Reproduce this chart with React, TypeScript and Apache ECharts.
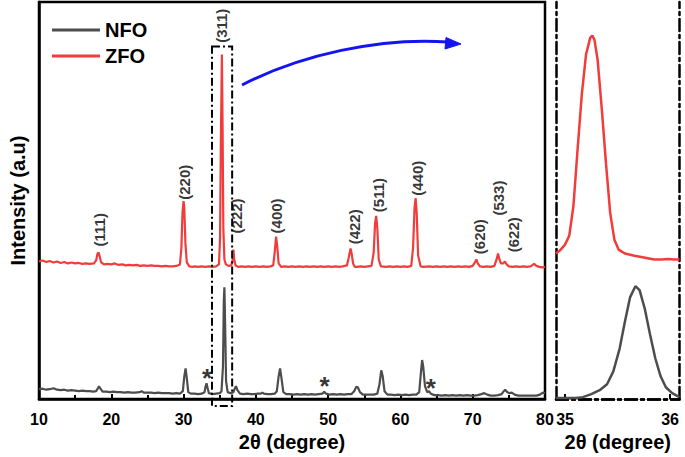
import React, { useEffect, useRef } from "react";
import * as echarts from "echarts";

const FONT = "'Liberation Sans', Arial, Helvetica, sans-serif";
const GRAY = "#4d4d4d";
const RED = "#f23c3c";

// ---- Main pattern, ZFO (2θ, intensity a.u.) ----
const zfoMain: number[][] = [
  [10, 139], [10.5, 140], [11, 138.5], [11.5, 139.5], [12, 138], [12.5, 139], [13, 137.5], [13.5, 138.5],
  [14, 137], [14.5, 138], [15, 137], [15.5, 137.5], [16, 136.5], [16.5, 137], [17, 136.5], [17.6, 137],
  [17.9, 140], [18.1, 147], [18.25, 148], [18.4, 144], [18.6, 138], [19, 136], [19.5, 136.5], [20, 136],
  [20.5, 137], [21, 135.5], [21.5, 136], [22, 135], [22.5, 135.5], [23, 135], [23.5, 135.5], [24, 134.5],
  [24.5, 135], [25, 134.5], [25.5, 135], [26, 134.5], [26.5, 134.5], [27, 134], [27.5, 134.5], [28, 134],
  [28.5, 134], [29, 134.5], [29.5, 136], [29.7, 153], [29.85, 188], [30, 200], [30.1, 193], [30.25, 158],
  [30.45, 138], [30.8, 134], [31.2, 133.5], [31.6, 134], [32, 133.5], [32.5, 134], [33, 133.5], [33.5, 134],
  [34, 133.5], [34.5, 134], [34.9, 136], [35.05, 163], [35.15, 253], [35.3, 348], [35.4, 273], [35.5, 173],
  [35.65, 141], [35.85, 136], [36.2, 134.5], [36.6, 135], [36.8, 141], [36.9, 151], [37.0, 141], [37.2, 135],
  [37.6, 133.5], [38, 134], [38.5, 133.5], [39, 134], [39.5, 133.5], [40, 134], [40.5, 133.5], [41, 134],
  [41.5, 133.5], [42, 134], [42.4, 135], [42.6, 148], [42.8, 164], [42.95, 155], [43.15, 137], [43.5, 133.5],
  [44, 134], [44.5, 133.5], [45, 134], [45.5, 133.5], [46, 134], [46.5, 133.5], [47, 134], [47.5, 133.5],
  [48, 134], [48.5, 133.5], [49, 134], [49.5, 133.5], [50, 134], [50.5, 133.5], [51, 134], [51.5, 133.5],
  [52, 134], [52.6, 135], [52.85, 143], [53.1, 152], [53.25, 147], [53.45, 137], [53.7, 133.5], [54, 133.5],
  [54.5, 134], [55, 133.5], [55.5, 134], [56, 134.5], [56.3, 148], [56.5, 178], [56.65, 185], [56.8, 173],
  [57.0, 141], [57.3, 134], [58, 133.5], [58.5, 134], [59, 133.5], [59.5, 134], [60, 133.5], [60.5, 134],
  [61, 133.5], [61.5, 134.5], [61.75, 153], [61.95, 193], [62.1, 203], [62.25, 188], [62.45, 145], [62.8, 134],
  [63.2, 133.5], [64, 134], [64.5, 133.5], [65, 134], [65.5, 133.5], [66, 134], [66.5, 133.5], [67, 134],
  [67.5, 133.5], [68, 134], [68.5, 133.5], [69, 134], [69.5, 133.5], [70, 134.5], [70.3, 138], [70.5, 141],
  [70.7, 137], [71, 134], [71.5, 133.5], [72, 134], [72.5, 133.5], [73, 134.5], [73.3, 141], [73.5, 147],
  [73.7, 141], [73.9, 137], [74.2, 137], [74.45, 139], [74.7, 136], [75, 134], [75.5, 133.5], [76, 134],
  [76.5, 133.5], [77, 134], [77.5, 133.5], [78, 134], [78.3, 135.5], [78.5, 136.5], [78.8, 134.5], [79.2, 133.5],
  [79.6, 133], [80, 133.5],
];

// ---- Main pattern, NFO (2θ, intensity a.u.) ----
const nfoMain: number[][] = [
  [10, 10], [10.5, 10.5], [11, 9.5], [11.5, 10], [12, 11], [12.5, 9.5], [13, 9], [13.5, 9.5], [14, 8.5],
  [14.5, 9], [15, 8.5], [15.5, 8], [16, 8.5], [16.5, 8], [17, 8], [17.5, 7.5], [17.9, 8], [18.15, 11],
  [18.3, 13], [18.5, 10.5], [18.8, 7.5], [19.3, 7.5], [19.8, 7], [20.3, 7.5], [20.8, 7], [21.3, 7], [21.8, 6.5],
  [22.3, 7], [22.8, 6.5], [23.3, 6.5], [23.9, 7], [24.2, 8], [24.5, 6.5], [25, 6.5], [25.5, 6.5], [26, 6],
  [26.5, 6.5], [27, 6], [27.5, 6], [28, 6], [28.5, 5.5], [29, 6], [29.5, 5.5], [29.9, 8], [30.1, 23],
  [30.28, 31], [30.45, 21], [30.65, 7], [31, 5.5], [31.5, 5.5], [32, 5], [32.5, 5.5], [32.9, 7], [33.05, 13],
  [33.18, 16], [33.3, 12], [33.5, 6], [34, 5], [34.5, 5.5], [35, 6], [35.25, 8], [35.45, 33], [35.57, 100],
  [35.65, 113], [35.75, 75], [35.88, 18], [36.1, 7], [36.5, 6], [36.9, 7], [37.1, 11], [37.25, 13], [37.45, 9],
  [37.8, 5.5], [38.3, 5], [38.8, 5.5], [39.3, 5], [39.8, 5], [40.3, 5.5], [40.7, 5.5], [40.9, 6.5], [41.1, 5.5],
  [41.6, 5], [42.1, 5], [42.6, 5.5], [42.9, 8], [43.15, 23], [43.35, 31], [43.55, 21], [43.8, 7], [44.2, 5],
  [44.7, 5], [45.2, 4.5], [45.7, 5], [46.2, 4.5], [46.7, 5], [47.2, 4.5], [47.7, 5], [48.2, 4.5], [48.7, 5],
  [49.2, 5.5], [49.45, 7.5], [49.7, 5.5], [50.2, 4.5], [50.7, 5], [51.2, 4.5], [51.7, 5], [52.2, 4.5], [52.7, 5],
  [53.2, 5], [53.6, 8], [53.9, 12.5], [54.1, 12], [54.4, 7], [54.8, 4.5], [55.3, 4.5], [55.8, 4.5], [56.3, 4.5],
  [56.8, 5.5], [57.1, 15], [57.35, 29], [57.55, 23], [57.8, 8], [58.2, 4.5], [58.7, 4.5], [59.2, 4], [59.7, 4.5],
  [60.2, 4], [60.7, 4.5], [61.2, 4], [61.7, 4.5], [62.2, 4.5], [62.6, 7], [62.85, 28], [63.0, 39.5], [63.15, 33],
  [63.4, 13], [63.7, 7], [63.95, 8], [64.2, 5.5], [64.7, 4], [65.2, 4], [65.7, 3.5], [66.2, 4], [66.7, 3.5],
  [67.2, 4], [67.7, 3.5], [68.2, 4], [68.7, 3.5], [69.2, 4], [69.7, 3.5], [70.2, 3.5], [70.7, 4], [71.2, 5],
  [71.6, 6], [72, 4.5], [72.5, 3.5], [73, 3.5], [73.5, 4], [74, 5], [74.3, 8], [74.5, 9.5], [74.8, 7],
  [75.1, 6], [75.4, 6.5], [75.8, 4.5], [76.3, 3.5], [76.8, 3.5], [77.3, 3.5], [77.8, 3.5], [78.3, 3.5],
  [78.8, 3.5], [79.3, 4.5], [79.6, 6], [79.8, 6.5], [80, 6],
];

// ---- Inset (311) region ----
const zfoInset: number[][] = [
  [34.914, 147], [34.95, 150], [35.0, 156], [35.04, 165], [35.08, 195], [35.12, 253], [35.16, 308], [35.2, 348],
  [35.24, 365], [35.26, 367], [35.28, 363], [35.31, 343], [35.35, 293], [35.39, 238], [35.43, 188], [35.47, 161],
  [35.51, 151], [35.57, 147], [35.65, 145], [35.75, 143], [35.85, 141], [35.92, 141], [35.98, 141.5], [36.04, 141],
  [36.09, 141],
];
const nfoInset: number[][] = [
  [34.914, 1], [35.0, 1], [35.1, 1], [35.17, 2], [35.25, 5], [35.33, 9], [35.4, 15], [35.46, 28], [35.52, 51],
  [35.57, 78], [35.62, 103], [35.67, 114], [35.71, 110], [35.76, 91], [35.81, 65], [35.86, 41], [35.91, 23],
  [35.96, 12], [36.02, 6], [36.09, 2],
];

// ---- Annotations ----
const peakLabels = ["(111)", "(220)", "(311)", "(222)", "(400)", "(422)", "(511)", "(440)", "(620)", "(533)", "(622)"];
const peakLabelX = [18.4, 30.1, 35.3, 37.35, 42.9, 53.6, 56.9, 62.3, 70.9, 73.55, 75.6];
const peakLabelY = [171, 219, 377, 185, 185, 174, 206, 223, 164, 203, 166];
const starX = [33.25, 49.5, 64.2];
const starY = [21, 13, 11];
const boxX = [33.93, 36.72];
const boxY = [-7, 356];

const xTicksMain = [10, 20, 30, 40, 50, 60, 70, 80];
const xTicksInset = [35, 36];

const dashDot = [12, 4, 3, 4];

export default function App() {
  const ref = useRef<HTMLDivElement>(null);
  useEffect(() => {
    if (!ref.current) return;
    const chart = echarts.init(ref.current, null, { renderer: "svg" });
    const axisTitle = { fontSize: 20, fontWeight: "bold", color: "#000", fontFamily: FONT };
    const tickLabel = { color: "#000", fontSize: 16, fontWeight: "bold", fontFamily: FONT, margin: 12 };
    const insetLine = { show: true, lineStyle: { color: "#000", width: 2.5, type: dashDot } };
    const option: any = {
      animation: false,
      textStyle: { fontFamily: FONT },
      legend: {
        data: ["NFO", "ZFO"],
        orient: "vertical",
        left: 47,
        top: 15,
        icon: "rect",
        itemWidth: 48,
        itemHeight: 3,
        itemGap: 6,
        textStyle: { fontSize: 20, fontWeight: "bold", color: "#000", fontFamily: FONT, lineHeight: 20 },
      },
      grid: [
        { left: 36, top: 2, width: 509, height: 401, show: true, borderColor: "#000", borderWidth: 2.5, backgroundColor: "transparent" },
        { left: 556, top: 2, width: 123.5, height: 401 },
      ],
      xAxis: [
        {
          gridIndex: 0, type: "value", min: 10, max: 80, interval: 10,
          axisLine: { lineStyle: { color: "#000", width: 2.5 } },
          axisTick: { inside: true, length: 5, lineStyle: { color: "#000", width: 2 } },
          minorTick: { show: true, splitNumber: 2, length: 4, lineStyle: { color: "#000", width: 2 } },
          splitLine: { show: false },
          axisLabel: { ...tickLabel, customValues: xTicksMain },
          name: "2θ (degree)", nameLocation: "middle", nameGap: 29, nameTextStyle: axisTitle,
        },
        {
          gridIndex: 1, type: "value", min: 34.914, max: 36.09,
          axisLine: insetLine,
          axisTick: { inside: true, length: 5, lineStyle: { color: "#000", width: 2 }, customValues: xTicksInset },
          splitLine: { show: false },
          axisLabel: { ...tickLabel, customValues: xTicksInset },
          name: "2θ (degree)", nameLocation: "middle", nameGap: 29, nameTextStyle: axisTitle,
        },
        {
          gridIndex: 1, type: "value", position: "top", min: 34.914, max: 36.09,
          axisLine: insetLine, axisTick: { show: false }, axisLabel: { show: false }, splitLine: { show: false },
        },
      ],
      yAxis: [
        {
          gridIndex: 0, type: "value", min: 0, max: 401,
          axisLine: { show: true, lineStyle: { color: "#000", width: 2.5 } },
          axisTick: { show: false }, axisLabel: { show: false }, splitLine: { show: false },
          name: "Intensity (a.u)", nameLocation: "middle", nameGap: 11, nameRotate: 90, nameTextStyle: axisTitle,
        },
        {
          gridIndex: 1, type: "value", min: 0, max: 401,
          axisLine: insetLine, axisTick: { show: false }, axisLabel: { show: false }, splitLine: { show: false },
        },
        {
          gridIndex: 1, type: "value", position: "right", min: 0, max: 401,
          axisLine: insetLine, axisTick: { show: false }, axisLabel: { show: false }, splitLine: { show: false },
        },
      ],
      series: [
        { name: "NFO", type: "line", xAxisIndex: 0, yAxisIndex: 0, data: nfoMain, symbol: "none", color: GRAY, lineStyle: { color: GRAY, width: 2.2 } },
        { name: "ZFO", type: "line", xAxisIndex: 0, yAxisIndex: 0, data: zfoMain, symbol: "none", color: RED, lineStyle: { color: RED, width: 2.2 } },
        { name: "NFO", type: "line", xAxisIndex: 1, yAxisIndex: 1, data: nfoInset, symbol: "none", color: GRAY, lineStyle: { color: GRAY, width: 2.5 } },
        { name: "ZFO", type: "line", xAxisIndex: 1, yAxisIndex: 1, data: zfoInset, symbol: "none", color: RED, lineStyle: { color: RED, width: 2.5 } },
        {
          name: "labels", type: "scatter", xAxisIndex: 0, yAxisIndex: 0, symbolSize: 0, silent: true,
          data: peakLabels.map((n, i) => ({ name: n, value: [peakLabelX[i], peakLabelY[i]] })),
          label: { show: true, formatter: (p: any) => p.name, rotate: 90, position: "inside", fontSize: 15, fontWeight: "bold", color: "#000", fontFamily: FONT },
        },
        {
          name: "stars", type: "scatter", xAxisIndex: 0, yAxisIndex: 0, symbolSize: 0, silent: true,
          data: starX.map((x, i) => [x, starY[i]]),
          label: { show: true, formatter: "*", position: "inside", fontSize: 26, fontWeight: "bold", color: "#000", fontFamily: FONT },
        },
      ],
    };
    chart.setOption(option);

    const p0 = chart.convertToPixel({ gridIndex: 0 }, [boxX[0], boxY[1]]) as number[];
    const p1 = chart.convertToPixel({ gridIndex: 0 }, [boxX[1], boxY[0]]) as number[];
    chart.setOption({
      graphic: [
        {
          type: "rect", z: 10, silent: true,
          shape: { x: p0[0], y: p0[1], width: p1[0] - p0[0], height: p1[1] - p0[1] },
          style: { fill: "none", stroke: "#000", lineWidth: 2, lineDash: [8, 3, 2, 3] },
        },
        {
          type: "bezierCurve", z: 10, silent: true,
          shape: { x1: 242, y1: 85, cpx1: 300, cpy1: 55, cpx2: 380, cpy2: 37, x2: 448, y2: 42 },
          style: { fill: "none", stroke: "#1414f0", lineWidth: 3 },
        },
        {
          type: "polygon", z: 10, silent: true,
          shape: { points: [[461, 44], [446, 37.5], [445, 49]] },
          style: { fill: "#1414f0", stroke: "#1414f0", lineWidth: 1 },
        },
      ],
    });
    return () => chart.dispose();
  }, []);
  return <div ref={ref} style={{ width: 685, height: 457, position: "absolute", left: 0, top: 0 }} />;
}
